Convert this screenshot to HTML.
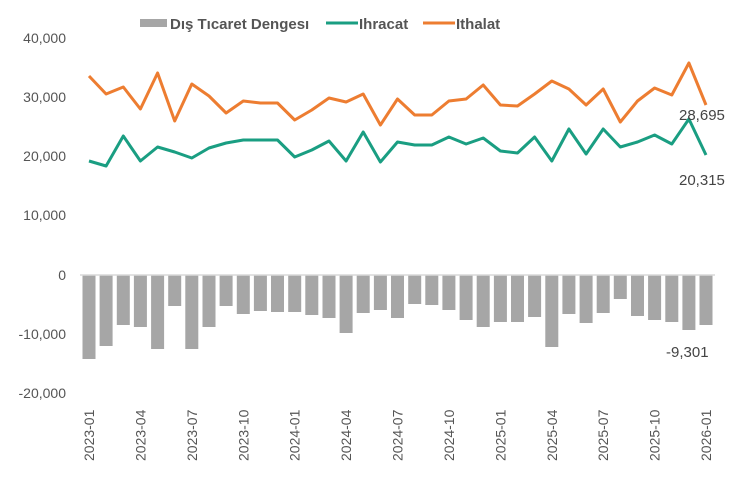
<!DOCTYPE html>
<html><head><meta charset="utf-8"><style>body{margin:0;background:#fff}svg{display:block;font-family:"Liberation Sans",sans-serif}</style></head><body>
<svg width="756" height="494" viewBox="0 0 756 494">
<g fill="#555" font-size="14" text-anchor="end">
<text x="66" y="43">40,000</text><text x="66" y="102">30,000</text><text x="66" y="161">20,000</text><text x="66" y="220">10,000</text><text x="66" y="280">0</text><text x="66" y="339">-10,000</text><text x="66" y="398">-20,000</text>
</g>
<g fill="#a6a6a6">
<rect x="82.5" y="275" width="13" height="84"/><rect x="99.6" y="275" width="13" height="71"/><rect x="116.8" y="275" width="13" height="50"/><rect x="133.9" y="275" width="13" height="52"/><rect x="151.1" y="275" width="13" height="74"/><rect x="168.2" y="275" width="13" height="31"/><rect x="185.3" y="275" width="13" height="74"/><rect x="202.5" y="275" width="13" height="52"/><rect x="219.6" y="275" width="13" height="31"/><rect x="236.8" y="275" width="13" height="39"/><rect x="253.9" y="275" width="13" height="36"/><rect x="271" y="275" width="13" height="37"/><rect x="288.2" y="275" width="13" height="37"/><rect x="305.3" y="275" width="13" height="40"/><rect x="322.5" y="275" width="13" height="43"/><rect x="339.6" y="275" width="13" height="58"/><rect x="356.7" y="275" width="13" height="38"/><rect x="373.9" y="275" width="13" height="35"/><rect x="391" y="275" width="13" height="43"/><rect x="408.2" y="275" width="13" height="29"/><rect x="425.3" y="275" width="13" height="30"/><rect x="442.4" y="275" width="13" height="35"/><rect x="459.6" y="275" width="13" height="45"/><rect x="476.7" y="275" width="13" height="52"/><rect x="493.9" y="275" width="13" height="47"/><rect x="511" y="275" width="13" height="47"/><rect x="528.1" y="275" width="13" height="42"/><rect x="545.3" y="275" width="13" height="72"/><rect x="562.4" y="275" width="13" height="39"/><rect x="579.6" y="275" width="13" height="48"/><rect x="596.7" y="275" width="13" height="38"/><rect x="613.8" y="275" width="13" height="24"/><rect x="631" y="275" width="13" height="41"/><rect x="648.1" y="275" width="13" height="45"/><rect x="665.3" y="275" width="13" height="47"/><rect x="682.4" y="275" width="13" height="55"/><rect x="699.5" y="275" width="13" height="50"/>
</g>
<line x1="80" y1="275" x2="715" y2="275" stroke="#d9d9d9" stroke-width="1.5"/>
<polyline fill="none" stroke="#ed7d31" stroke-width="3" stroke-linejoin="round" points="89,76 106.1,94 123.3,87 140.4,109 157.6,73 174.7,121 191.8,84 209,96 226.1,113 243.3,101 260.4,103 277.5,103 294.7,120 311.8,110 329,98 346.1,102 363.2,94 380.4,125 397.5,99 414.7,115 431.8,115 448.9,101 466.1,99 483.2,85 500.4,105 517.5,106 534.6,94 551.8,81 568.9,89 586.1,105 603.2,89 620.3,122 637.5,101 654.6,88 671.8,95 688.9,63 706,105"/>
<polyline fill="none" stroke="#1a9e82" stroke-width="3" stroke-linejoin="round" points="89,161 106.1,166 123.3,136 140.4,161 157.6,147 174.7,152 191.8,158 209,148 226.1,143 243.3,140 260.4,140 277.5,140 294.7,157 311.8,150 329,141 346.1,161 363.2,132 380.4,162 397.5,142 414.7,145 431.8,145 448.9,137 466.1,144 483.2,138 500.4,151 517.5,153 534.6,137 551.8,161 568.9,129 586.1,154 603.2,129 620.3,147 637.5,142 654.6,135 671.8,144 688.9,119 706,155"/>
<g fill="#444" font-size="15">
<text x="679" y="120">28,695</text><text x="679" y="185">20,315</text><text x="666" y="357">-9,301</text>
</g>
<g fill="#555" font-size="14">
<text transform="translate(94,461) rotate(-90)">2023-01</text><text transform="translate(145.4,461) rotate(-90)">2023-04</text><text transform="translate(196.8,461) rotate(-90)">2023-07</text><text transform="translate(248.3,461) rotate(-90)">2023-10</text><text transform="translate(299.7,461) rotate(-90)">2024-01</text><text transform="translate(351.1,461) rotate(-90)">2024-04</text><text transform="translate(402.5,461) rotate(-90)">2024-07</text><text transform="translate(453.9,461) rotate(-90)">2024-10</text><text transform="translate(505.4,461) rotate(-90)">2025-01</text><text transform="translate(556.8,461) rotate(-90)">2025-04</text><text transform="translate(608.2,461) rotate(-90)">2025-07</text><text transform="translate(659.6,461) rotate(-90)">2025-10</text><text transform="translate(711,461) rotate(-90)">2026-01</text>
</g>
<rect x="140" y="19" width="27" height="8" fill="#a6a6a6"/>
<line x1="326" y1="23" x2="358" y2="23" stroke="#1a9e82" stroke-width="3"/>
<line x1="423" y1="23" x2="455" y2="23" stroke="#ed7d31" stroke-width="3"/>
<g fill="#555" font-size="15" font-weight="bold">
<text x="170" y="29">Dış Tıcaret Dengesı</text><text x="359" y="29">Ihracat</text><text x="456" y="29">Ithalat</text>
</g>
</svg>
</body></html>
